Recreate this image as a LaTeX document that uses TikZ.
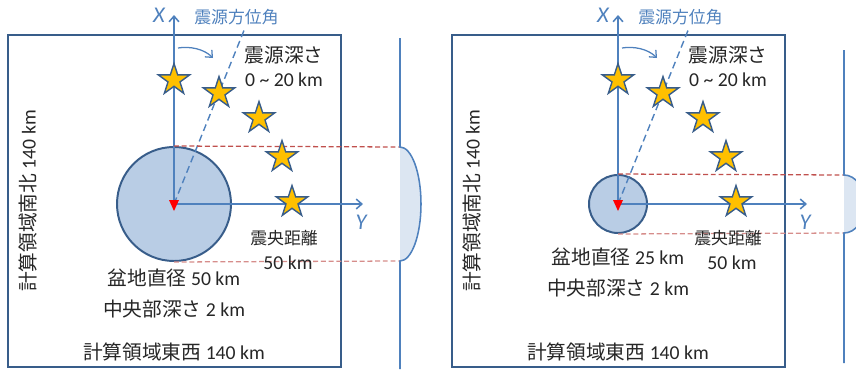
\documentclass[tikz,border=0pt]{standalone}
\usepackage{fontspec}
\setmainfont{Carlito}
\newfontfamily\jp{Noto Sans CJK JP}
\usetikzlibrary{shapes.geometric,arrows.meta}

\definecolor{axisblue}{RGB}{79,129,189}
\definecolor{edgeblue}{RGB}{56,93,138}
\definecolor{basinfill}{RGB}{185,205,229}
\definecolor{bumpfill}{RGB}{220,230,242}
\definecolor{stargold}{RGB}{255,192,0}
\definecolor{dashred}{RGB}{192,80,77}
\definecolor{textgray}{RGB}{38,38,38}

\tikzset{
  label-text/.style={text=textgray, font=\fontsize{14}{16}\selectfont, inner sep=0pt},
  label-small/.style={label-text, font=\fontsize{12}{14}\selectfont},
  label-blue/.style={label-small, text=axisblue},
  axis-name/.style={text=axisblue, font=\fontsize{16}{18}\selectfont\itshape, inner sep=0pt},
  axis-line/.style={draw=axisblue, line width=1.1pt, -{Straight Barb[length=4pt,width=7pt]}},
  domain-box/.style={draw=edgeblue, line width=1.4pt},
  basin/.style={circle, fill=basinfill, draw=edgeblue, line width=1.4pt, inner sep=0pt},
  quake/.style={star, star points=5, star point ratio=2.6, fill=stargold, draw=edgeblue, line width=1pt, minimum size=0.82cm, inner sep=0pt},
  azimuth/.style={draw=axisblue, line width=1pt, dash pattern=on 5pt off 3pt},
  edge-dash/.style={draw=dashred, line width=0.9pt, dash pattern=on 3.5pt off 2pt},
  profile/.style={draw=axisblue, line width=1.1pt}
}

% #1 shift, #2 prefix, #3 basin radius, #4 diameter, #5 text row, #6/#7 profile line ends
\newcommand{\basinpanel}[7]{
  \begin{scope}[shift={(#1,0)}]
    \draw[domain-box] (-166,35) rectangle (167,367);

    \coordinate (#2-o) at (0,204);
    \node[basin, minimum size={2*#3*0.025cm}] (#2-basin) at (#2-o) {};

    % axes and azimuth
    \coordinate (#2-xtip) at (0,15);
    \coordinate (#2-ytip) at (189,204);
    \coordinate (#2-az) at (71,28);
    \draw[axis-line] (#2-o) -- (#2-xtip);
    \draw[axis-line] (#2-o) -- (#2-ytip);
    \draw[azimuth] (#2-o) -- (#2-az);
    \node[axis-name] (#2-xname) at (-15,15) {X};
    \node[axis-name] (#2-yname) at (187,222) {Y};
    \node[label-blue, anchor=west] (#2-azname) at (20,17) {\jp 震源方位角};
    \coordinate (#2-a1) at (4,48);
    \coordinate (#2-a2) at (39,58);
    \draw[axis-line, line width=0.9pt] (#2-a1) .. controls (16,46) and (30,49) .. (#2-a2);

    % side profile
    \coordinate (#2-ptop) at (226,204-#3);
    \coordinate (#2-pbot) at (226,204+#3);
    \coordinate (#2-ltop) at (226,#6);
    \coordinate (#2-lbot) at (226,#7);
    \draw[edge-dash] (#2-basin.north) -- (#2-ptop);
    \draw[edge-dash, draw=dashred!65] (#2-basin.south) -- (#2-pbot);
    \fill[bumpfill] (#2-ptop) arc[start angle=-90, end angle=90, x radius=21, y radius=#3] -- cycle;
    \draw[profile] (#2-ltop) -- (#2-ptop) arc[start angle=-90, end angle=90, x radius=21, y radius=#3] -- (#2-lbot);

    \fill[red] (-5,200) -- (5,200) -- (0,211) -- cycle;

    \foreach \sx/\sy [count=\k] in {0/80,45/93,85/118,108/157,118/202}{
      \node[quake] (#2-q\k) at (\sx,\sy) {};
    }

    % labels
    \node[label-text] (#2-depth) at (110,55) {\jp 震源深さ};
    \node[label-text] (#2-depthval) at (110,80) {0 \textasciitilde{} 20 km};
    \node[label-small] (#2-dist) at (110,238) {\jp 震央距離};
    \node[label-text] (#2-distval) at (114,263) {50 km};
    \node[label-text] (#2-diam) at (0,#5) {{\jp 盆地直径} #4 km};
    \node[label-text] (#2-mid) at (0,#5+31) {{\jp 中央部深さ} 2 km};
    \node[label-text] (#2-ew) at (0,352) {{\jp 計算領域東西} 140 km};
    \node[label-text, rotate=90] (#2-ns) at (-146,201) {{\jp 計算領域南北} 140 km};
  \end{scope}
}

\begin{document}
\begin{tikzpicture}[x=0.025cm, y=-0.025cm]
  \useasboundingbox (0,0) rectangle (856,369);

  \basinpanel{174}{L}{57}{50}{278}{38}{369}
  \basinpanel{618}{R}{29}{25}{257}{50}{363}

\end{tikzpicture}
\end{document}
